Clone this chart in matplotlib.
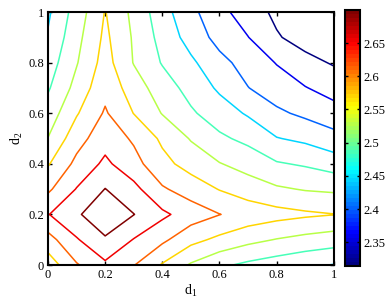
import matplotlib
matplotlib.use("Agg")
import matplotlib.pyplot as plt
from matplotlib.colors import LinearSegmentedColormap, Normalize
import numpy as np

plt.rcParams["font.family"] = ["Liberation Serif", "DejaVu Serif"]
plt.rcParams["mathtext.fontset"] = "custom"
plt.rcParams["mathtext.rm"] = "Liberation Serif"

# grid positions (d1 across, d2 up)
d1 = [0.0, 0.1, 0.2, 0.3, 0.4, 0.5, 0.6, 0.7, 0.8, 0.9, 1.0]
d2 = [0.0, 0.1, 0.2, 0.3, 0.4, 0.5, 0.6, 0.7, 0.8, 0.9, 1.0]

# values, one row per d2 value
z_d2_00 = [2.546, 2.610, 2.649, 2.616, 2.567, 2.524, 2.494, 2.477, 2.464, 2.451, 2.441]
z_d2_01 = [2.597, 2.653, 2.694, 2.655, 2.623, 2.584, 2.561, 2.541, 2.527, 2.516, 2.507]
z_d2_02 = [2.655, 2.693, 2.734, 2.701, 2.666, 2.636, 2.615, 2.597, 2.586, 2.578, 2.572]
z_d2_03 = [2.606, 2.659, 2.701, 2.670, 2.619, 2.595, 2.569, 2.550, 2.535, 2.526, 2.522]
z_d2_04 = [2.567, 2.625, 2.666, 2.629, 2.584, 2.554, 2.531, 2.513, 2.490, 2.481, 2.466]
z_d2_05 = [2.530, 2.597, 2.640, 2.608, 2.563, 2.526, 2.494, 2.475, 2.445, 2.434, 2.415]
z_d2_06 = [2.505, 2.567, 2.619, 2.570, 2.527, 2.492, 2.464, 2.438, 2.408, 2.391, 2.374]
z_d2_07 = [2.481, 2.543, 2.601, 2.550, 2.507, 2.471, 2.436, 2.401, 2.378, 2.359, 2.340]
z_d2_08 = [2.464, 2.526, 2.588, 2.527, 2.483, 2.451, 2.413, 2.383, 2.355, 2.327, 2.310]
z_d2_09 = [2.447, 2.516, 2.580, 2.524, 2.471, 2.426, 2.385, 2.358, 2.318, 2.297, 2.284]
z_d2_10 = [2.436, 2.505, 2.573, 2.518, 2.460, 2.411, 2.370, 2.335, 2.305, 2.284, 2.271]

levels = [2.314, 2.357, 2.400, 2.443, 2.486, 2.529, 2.571, 2.614, 2.657, 2.700]
cbar_ticks = [2.35, 2.40, 2.45, 2.50, 2.55, 2.60, 2.65]
cbar_ticklabels = ["2.35", "2.4", "2.45", "2.5", "2.55", "2.6", "2.65"]
axis_ticks = [0, 0.2, 0.4, 0.6, 0.8, 1]
axis_ticklabels = ["0", "0.2", "0.4", "0.6", "0.8", "1"]

Z = np.array([z_d2_00, z_d2_01, z_d2_02, z_d2_03, z_d2_04, z_d2_05,
              z_d2_06, z_d2_07, z_d2_08, z_d2_09, z_d2_10])
X, Y = np.meshgrid(d1, d2)

# MATLAB style jet, 64 steps
jet = LinearSegmentedColormap("matlab_jet", {
    "red":   [(0, 0, 0), (0.375, 0, 0), (0.625, 1, 1), (0.875, 1, 1), (1, 0.5, 0.5)],
    "green": [(0, 0, 0), (0.125, 0, 0), (0.375, 1, 1), (0.625, 1, 1), (0.875, 0, 0), (1, 0, 0)],
    "blue":  [(0, 0.5, 0.5), (0.125, 1, 1), (0.375, 1, 1), (0.625, 0, 0), (1, 0, 0)],
}, N=64)

fig = plt.figure(figsize=(3.9, 3.02), dpi=100)
ax = fig.add_axes([0.123, 0.1225, 0.733, 0.8375])
ax.contour(X, Y, Z, levels=levels, cmap=jet, linewidths=1.1)

ax.set_xlim(0, 1)
ax.set_ylim(0, 1)
ax.set_xticks(axis_ticks)
ax.set_xticklabels(axis_ticklabels)
ax.set_yticks(axis_ticks)
ax.set_yticklabels(axis_ticklabels)
ax.tick_params(direction="in", length=3, width=1, top=True, right=True,
               labelsize=9, pad=3)
for s in ax.spines.values():
    s.set_linewidth(1.5)
ax.set_xlabel(r"$\mathregular{d_1}$", fontsize=10, labelpad=1)
ax.set_ylabel(r"$\mathregular{d_2}$", fontsize=10, labelpad=2)

# colour bar
cax = fig.add_axes([0.885, 0.119, 0.0385, 0.848])
sm = matplotlib.cm.ScalarMappable(norm=Normalize(vmin=levels[0], vmax=levels[-1]), cmap=jet)
cb = fig.colorbar(sm, cax=cax, ticks=cbar_ticks)
cb.ax.set_yticklabels(cbar_ticklabels)
cb.ax.tick_params(direction="in", length=2.5, width=1, left=True, right=True,
                  labelsize=9, pad=2)
cb.outline.set_linewidth(1.5)

fig.savefig("out.png", dpi=100)
